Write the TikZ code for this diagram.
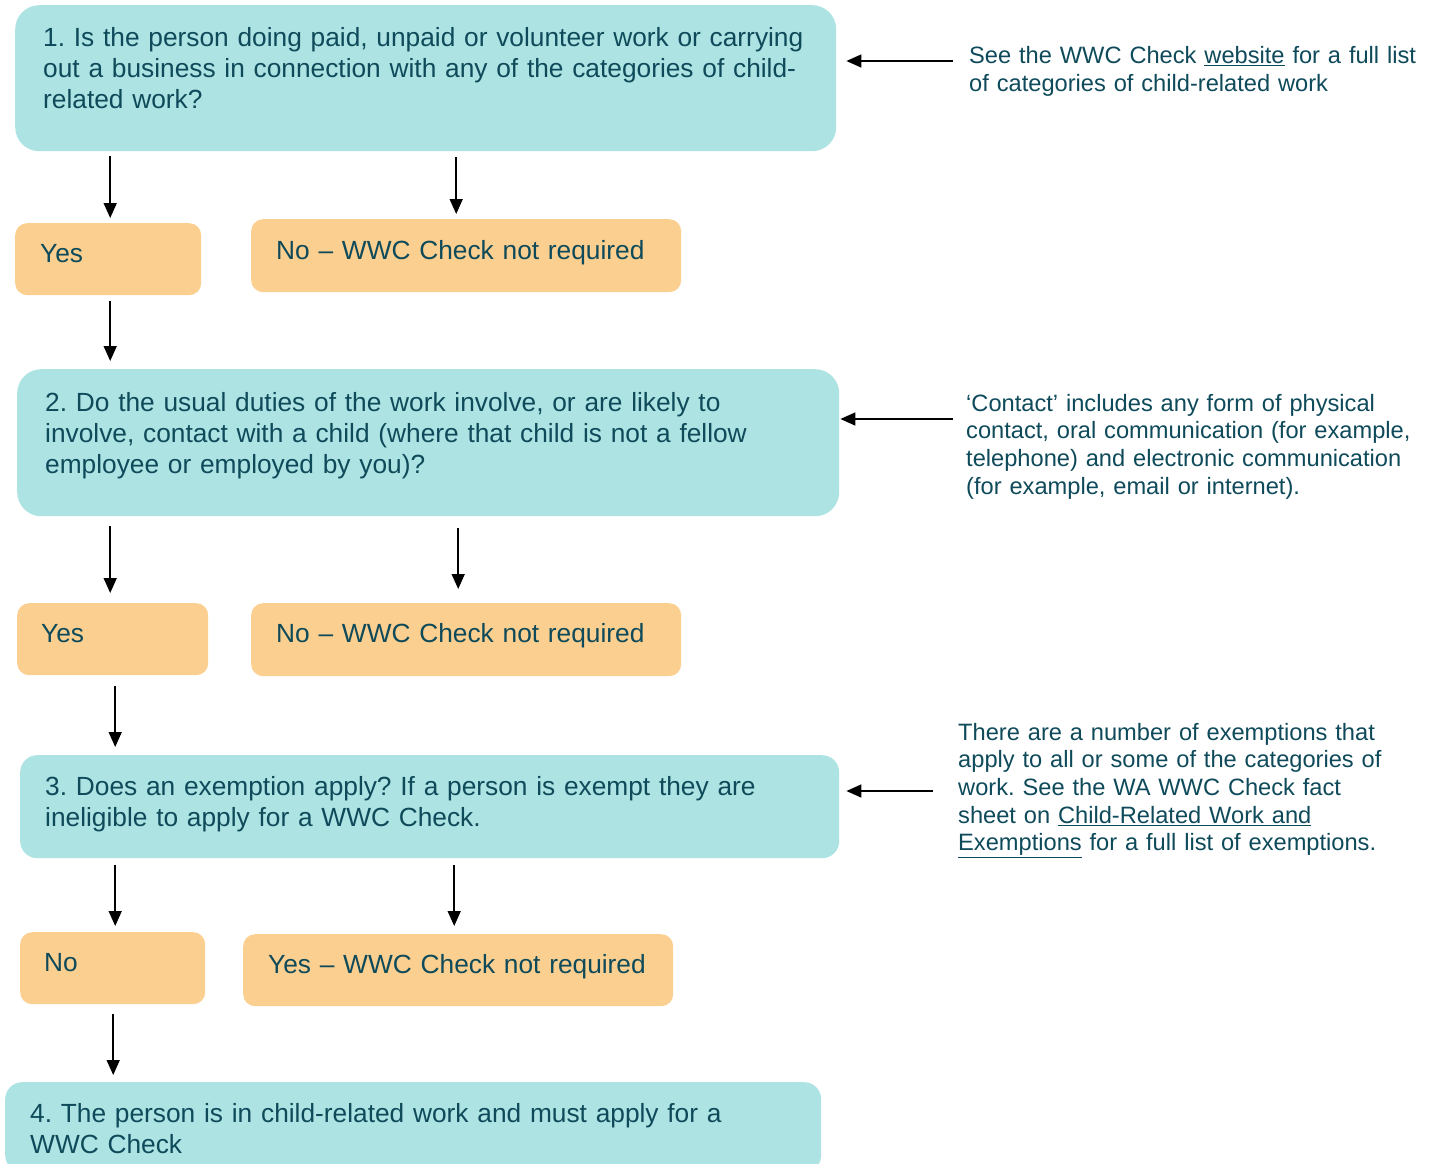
\documentclass[tikz,border=0pt]{standalone}
\usepackage{fontspec}
\setmainfont{Liberation Sans}
\usetikzlibrary{arrows.meta}
\definecolor{cyanbox}{RGB}{174,227,227}
\definecolor{orangebox}{RGB}{251,207,143}
\definecolor{txtcol}{RGB}{14,74,90}
\frenchspacing
\begin{document}
\begin{tikzpicture}[x=1pt,y=-1pt,
  qbox/.style={fill=cyanbox,draw=none,anchor=north west,inner sep=0pt},
  abox/.style={fill=orangebox,draw=none,anchor=north west,inner sep=0pt,rounded corners=12pt},
  maintxt/.style={anchor=base west,inner sep=0pt,text width=820pt,align=left,text=txtcol,
    font=\frenchspacing\fontsize{26.3}{31}\selectfont},
  sidetxt/.style={anchor=base west,inner sep=0pt,text width=470pt,align=left,text=txtcol,
    font=\frenchspacing\fontsize{23.65}{27.7}\selectfont},
  arr/.style={line width=1.6pt,-{Triangle[length=15pt,width=13pt]}}]
\useasboundingbox (0,0) rectangle (1436,1164);
\clip (0,0) rectangle (1436,1164);
% boxes
\node[qbox,rounded corners=24pt,minimum width=821pt,minimum height=146pt] (b1) at (15,5) {};
\node[abox,minimum width=186pt,minimum height=72pt] (y1) at (15,223) {};
\node[abox,minimum width=430pt,minimum height=73pt] (n1) at (251,219) {};
\node[qbox,rounded corners=24pt,minimum width=822pt,minimum height=147pt] (b2) at (17,369) {};
\node[abox,minimum width=191pt,minimum height=72pt] (y2) at (17,603) {};
\node[abox,minimum width=430pt,minimum height=73pt] (n2) at (251,603) {};
\node[qbox,rounded corners=17pt,minimum width=819pt,minimum height=103pt] (b3) at (20,755) {};
\node[abox,minimum width=185pt,minimum height=72pt] (n3) at (20,932) {};
\node[abox,minimum width=430pt,minimum height=72pt] (y3) at (243,934) {};
\node[qbox,rounded corners=17pt,minimum width=816pt,minimum height=90pt] (b4) at (5,1082) {};
% texts
\node[maintxt] (t1) at (43,47) {1. Is the person doing paid, unpaid or volunteer work or carrying\\out a business in connection with any of the categories of child-\\related work?};
\node[maintxt] (ty1) at (40,262) {Yes};
\node[maintxt] (tn1) at (276,259) {No -- WWC Check not required};
\node[maintxt] (t2) at (45,411) {2. Do the usual duties of the work involve, or are likely to\\involve, contact with a child (where that child is not a fellow\\employee or employed by you)?};
\node[maintxt] (ty2) at (41,642) {Yes};
\node[maintxt] (tn2) at (276,642) {No -- WWC Check not required};
\node[maintxt] (t3) at (45,795) {3. Does an exemption apply? If a person is exempt they are\\ineligible to apply for a WWC Check.};
\node[maintxt] (tn3) at (44,971) {No};
\node[maintxt] (ty3) at (268,973) {Yes -- WWC Check not required};
\node[maintxt] (t4) at (30,1122) {4. The person is in child-related work and must apply for a\\WWC Check};
% side notes
\node[sidetxt] (s1) at (969,64) {See the WWC Check \underline{website} for a full list\\of categories of child-related work};
\node[sidetxt] (s2) at (966,411) {`Contact' includes any form of physical\\contact, oral communication (for example,\\telephone) and electronic communication\\(for example, email or internet).};
\node[sidetxt] (s3) at (958,740) {There are a number of exemptions that\\apply to all or some of the categories of\\work. See the WA WWC Check fact\\sheet on \underline{Child-Related Work and}\\\underline{Exemptions} for a full list of exemptions.};
% side arrow starts
\coordinate (c1) at (953,61);
\coordinate (c2) at (953,419);
\coordinate (c3) at (933,791);
\draw[arr,shorten >=10pt] (c1) -- (c1 -| b1.east);
\draw[arr,shorten >=1pt] (c2) -- (c2 -| b2.east);
\draw[arr,shorten >=7pt] (c3) -- (c3 -| b3.east);
% vertical arrows
\draw[arr,shorten <=5pt,shorten >=5pt] ([xshift=2pt]b1.south -| y1.north) -- ([xshift=2pt]y1.north);
\draw[arr,shorten <=6pt,shorten >=5pt] ([xshift=-10pt]b1.south -| n1.north) -- ([xshift=-10pt]n1.north);
\draw[arr,shorten <=6pt,shorten >=8pt] ([xshift=2pt]y1.south) -- ([xshift=2pt]y1.south |- b2.north);
\draw[arr,shorten <=10pt,shorten >=10pt] ([xshift=-2.5pt]b2.south -| y2.north) -- ([xshift=-2.5pt]y2.north);
\draw[arr,shorten <=12pt,shorten >=14pt] ([xshift=-8pt]b2.south -| n2.north) -- ([xshift=-8pt]n2.north);
\draw[arr,shorten <=11pt,shorten >=8pt] ([xshift=2.5pt]y2.south) -- ([xshift=2.5pt]y2.south |- b3.north);
\draw[arr,shorten <=7pt,shorten >=6pt] ([xshift=2.5pt]b3.south -| n3.north) -- ([xshift=2.5pt]n3.north);
\draw[arr,shorten <=7pt,shorten >=8pt] ([xshift=-4pt]b3.south -| y3.north) -- ([xshift=-4pt]y3.north);
\draw[arr,shorten <=10pt,shorten >=7pt] ([xshift=0.5pt]n3.south) -- ([xshift=0.5pt]n3.south |- b4.north);
\end{tikzpicture}
\end{document}
